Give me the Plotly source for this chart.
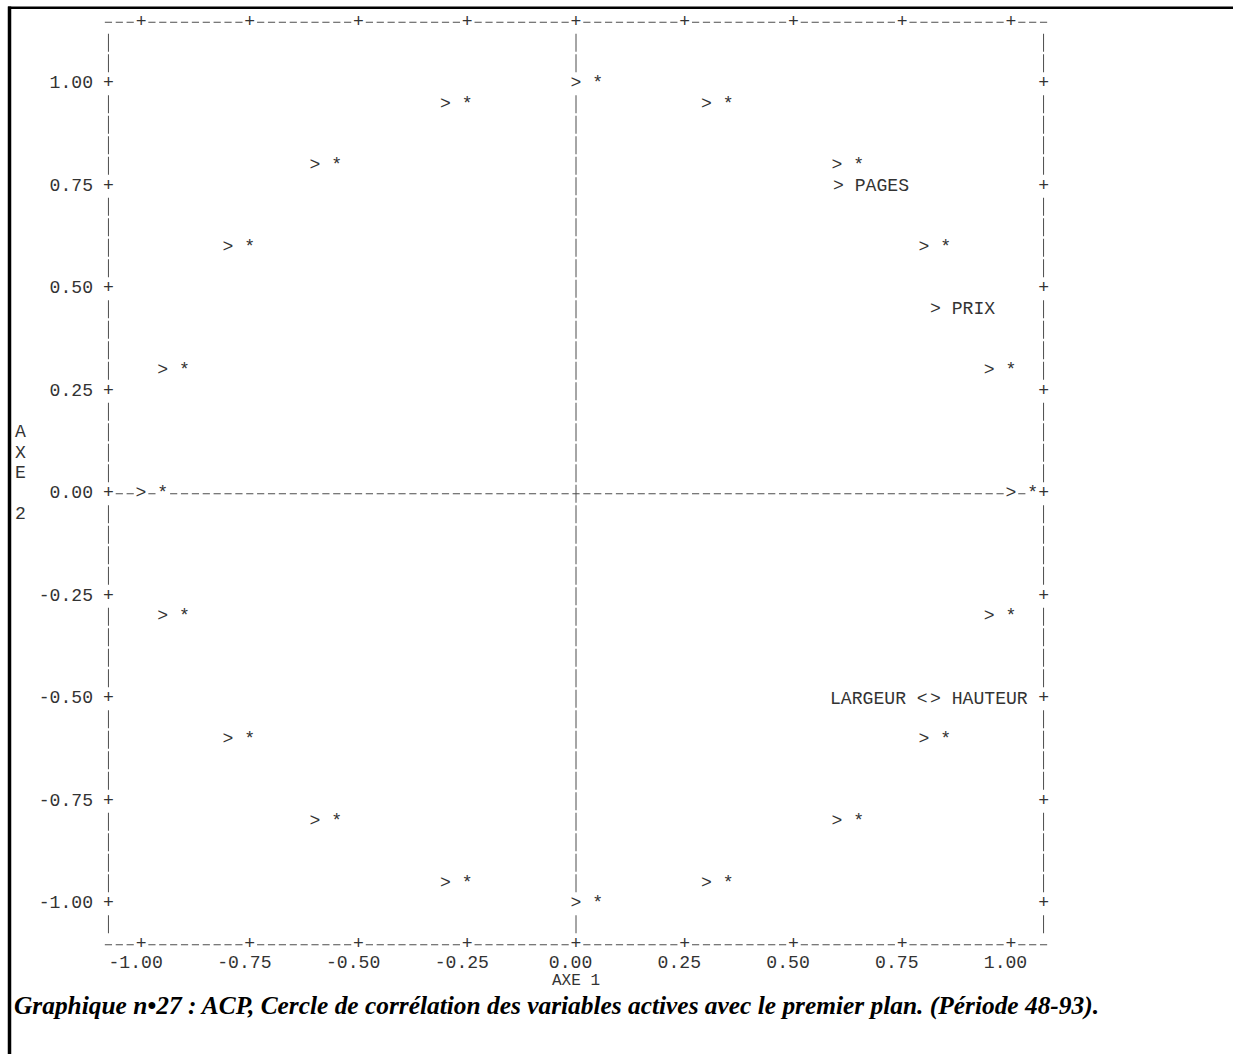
import plotly.graph_objects as go

# ---------------- data ----------------
circle_x = [0.00, 0.30, 0.60, 0.80, 0.95, 1.00, 0.95, 0.80, 0.60, 0.30,
            0.00, -0.30, -0.60, -0.80, -0.95, -1.00, -0.95, -0.80, -0.60, -0.30]
circle_y = [1.00, 0.95, 0.80, 0.60, 0.30, 0.00, -0.30, -0.60, -0.80, -0.95,
            -1.00, -0.95, -0.80, -0.60, -0.30, 0.00, 0.30, 0.60, 0.80, 0.95]
var_names = ["PAGES", "PRIX", "LARGEUR", "HAUTEUR"]
var_x = [0.600, 0.825, 0.800, 0.825]
var_y = [0.75, 0.45, -0.50, -0.50]
x_ticks = [-1.00, -0.75, -0.50, -0.25, 0.00, 0.25, 0.50, 0.75, 1.00]
y_ticks = [-1.00, -0.75, -0.50, -0.25, 0.00, 0.25, 0.50, 0.75, 1.00]
x_title = "AXE 1"
y_title = "AXE 2"
caption = ("Graphique n\u202227 : ACP, Cercle de corrélation des variables actives "
           "avec le premier plan. (Période 48-93).")

# ---------------- character-grid geometry ----------------
NB = "\u00a0"
COL = 0.025           # one character column in x units
ROW = 0.05            # one text row in y units
NCOL = 43             # border column index
ROW_TOP = 23          # top frame row
ROW_BOT = -22         # bottom frame row
x_lo, x_hi = -NCOL * COL, NCOL * COL
y_top, y_bot = ROW_TOP * ROW, ROW_BOT * ROW

W, H = 1233, 1054
ML, MR, MT, MB = 103, 184, 12, 99
xr = [x_lo - COL / 2, x_hi + COL / 2]
yr = [y_bot - ROW / 2, y_top + ROW / 2]
pw, ph = W - ML - MR, H - MT - MB
px_x = pw / (xr[1] - xr[0])
px_y = ph / (yr[1] - yr[0])
HALF_COL_PX = COL * px_x / 2

MONO = "Courier New, Liberation Mono, monospace"
FS = 18.1
TXT = "#333333"
LINE = "#4d4d4d"


def centered(s, idx):
    left, right = idx, len(s) - 1 - idx
    pad = max(left, right)
    return NB * (pad - left) + s + NB * (pad - right)


occupied = set()


def occupy(x, y, s, idx):
    c, r = round(x / COL), round(y / ROW)
    for k, ch in enumerate(s):
        if ch != " ":
            occupied.add((c - idx + k, r))


# circle points: "> *"
circ_text = []
for x, y in zip(circle_x, circle_y):
    s = "> *"
    occupy(x, y, s, 0)
    circ_text.append(centered(s, 0))

tfont = dict(family=MONO, size=FS, color=TXT)
annotations = []

# variables: "> NAME", or "NAME <" when a neighbour sits just to the right on the same row
for i, (n, x, y) in enumerate(zip(var_names, var_x, var_y)):
    left = any(j != i and abs(var_y[j] - y) < ROW / 2 and 0 < var_x[j] - x < 0.1
               for j in range(len(var_names)))
    if left:
        s, idx = n + " <", len(n) + 1
        annotations.append(dict(x=x, y=y, xref="x", yref="y", text=s, showarrow=False,
                                xanchor="right", yanchor="middle", xshift=HALF_COL_PX,
                                font=tfont, borderpad=0))
    else:
        s, idx = "> " + n, 0
        annotations.append(dict(x=x, y=y, xref="x", yref="y", text=s, showarrow=False,
                                xanchor="left", yanchor="middle", xshift=-HALF_COL_PX,
                                font=tfont, borderpad=0))
    occupy(x, y, s, idx)

# frame "+" marks
plus_x, plus_y = [], []
for t in y_ticks:
    for bx in (x_lo, x_hi):
        plus_x.append(bx); plus_y.append(t)
for t in x_ticks:
    for by in (y_top, y_bot):
        plus_x.append(t); plus_y.append(by)
for x, y in zip(plus_x, plus_y):
    occupy(x, y, "+", 0)

# dashed / barred lines drawn per character cell
lx, ly = [], []
hd = 3.6 / px_x
for r in (ROW_TOP, ROW_BOT, 0):
    for c in range(-NCOL, NCOL + 1):
        if (c, r) in occupied:
            continue
        cx = c * COL
        lx += [cx - hd, cx + hd, None]
        ly += [r * ROW, r * ROW, None]
vd = 9.0 / px_y
for c in (-NCOL, 0, NCOL):
    for r in range(ROW_BOT + 1, ROW_TOP):
        if (c, r) in occupied:
            continue
        cy = r * ROW
        lx += [c * COL, c * COL, None]
        ly += [cy - vd, cy + vd, None]

fig = go.Figure()
fig.add_trace(go.Scatter(x=lx, y=ly, mode="lines", line=dict(color=LINE, width=1),
                         hoverinfo="skip", showlegend=False))
fig.add_trace(go.Scatter(x=plus_x, y=plus_y, mode="text", text=["+"] * len(plus_x),
                         textposition="middle center", textfont=tfont,
                         cliponaxis=False, hoverinfo="skip", showlegend=False))
fig.add_trace(go.Scatter(x=circle_x, y=circle_y, mode="text", text=circ_text,
                         textposition="middle center", textfont=tfont,
                         cliponaxis=False, showlegend=False))
fig.add_trace(go.Scatter(x=var_x, y=var_y, mode="markers", marker=dict(size=1, opacity=0),
                         text=var_names, hoverinfo="text", showlegend=False))

# x axis title
annotations.append(dict(x=0, xref="x", y=(MT + ph - 981) / ph, yref="paper",
                        text=x_title, showarrow=False, xanchor="center", yanchor="middle",
                        font=dict(family=MONO, size=16, color=TXT)))
# vertical y axis title, one character per row
ytx = (20 - ML) / pw
for i, ch in enumerate(y_title):
    if ch == " ":
        continue
    annotations.append(dict(x=ytx, xref="paper", y=(3 - i) * ROW, yref="y", text=ch,
                            showarrow=False, xanchor="center", yanchor="middle",
                            font=tfont))
# caption
annotations.append(dict(x=(12 - ML) / pw, xref="paper", y=(MT + ph - 1006) / ph, yref="paper",
                        text=caption, showarrow=False, xanchor="left", yanchor="middle",
                        font=dict(family="Times New Roman, Liberation Serif, serif", size=25.4,
                                  color="#000000", weight="bold", style="italic")))

shapes = [
    dict(type="line", xref="paper", yref="paper",
         x0=(8 - ML) / pw, x1=(W - ML) / pw,
         y0=(MT + ph - 7.8) / ph, y1=(MT + ph - 7.8) / ph,
         line=dict(color="black", width=2.5)),
    dict(type="line", xref="paper", yref="paper",
         x0=(9.5 - ML) / pw, x1=(9.5 - ML) / pw,
         y0=(MT + ph - 6.5) / ph, y1=(MT + ph - H) / ph,
         line=dict(color="black", width=3.5)),
]

fig.update_layout(
    width=W, height=H, margin=dict(l=ML, r=MR, t=MT, b=MB, pad=0),
    paper_bgcolor="white", plot_bgcolor="white",
    showlegend=False, annotations=annotations, shapes=shapes,
    xaxis=dict(range=xr, showgrid=False, zeroline=False, showline=False,
               tickmode="array", tickvals=x_ticks,
               ticktext=[f"{v:.2f}" + NB for v in x_ticks],
               ticks="", tickfont=tfont, ticklabelstandoff=-6, fixedrange=True),
    yaxis=dict(range=yr, showgrid=False, zeroline=False, showline=False,
               tickmode="array", tickvals=y_ticks,
               ticktext=[f"{v:.2f}" for v in y_ticks],
               ticks="", tickfont=tfont, ticklabelstandoff=9, ticklabelshift=-2,
               fixedrange=True),
)

fig.write_html("out.html")
